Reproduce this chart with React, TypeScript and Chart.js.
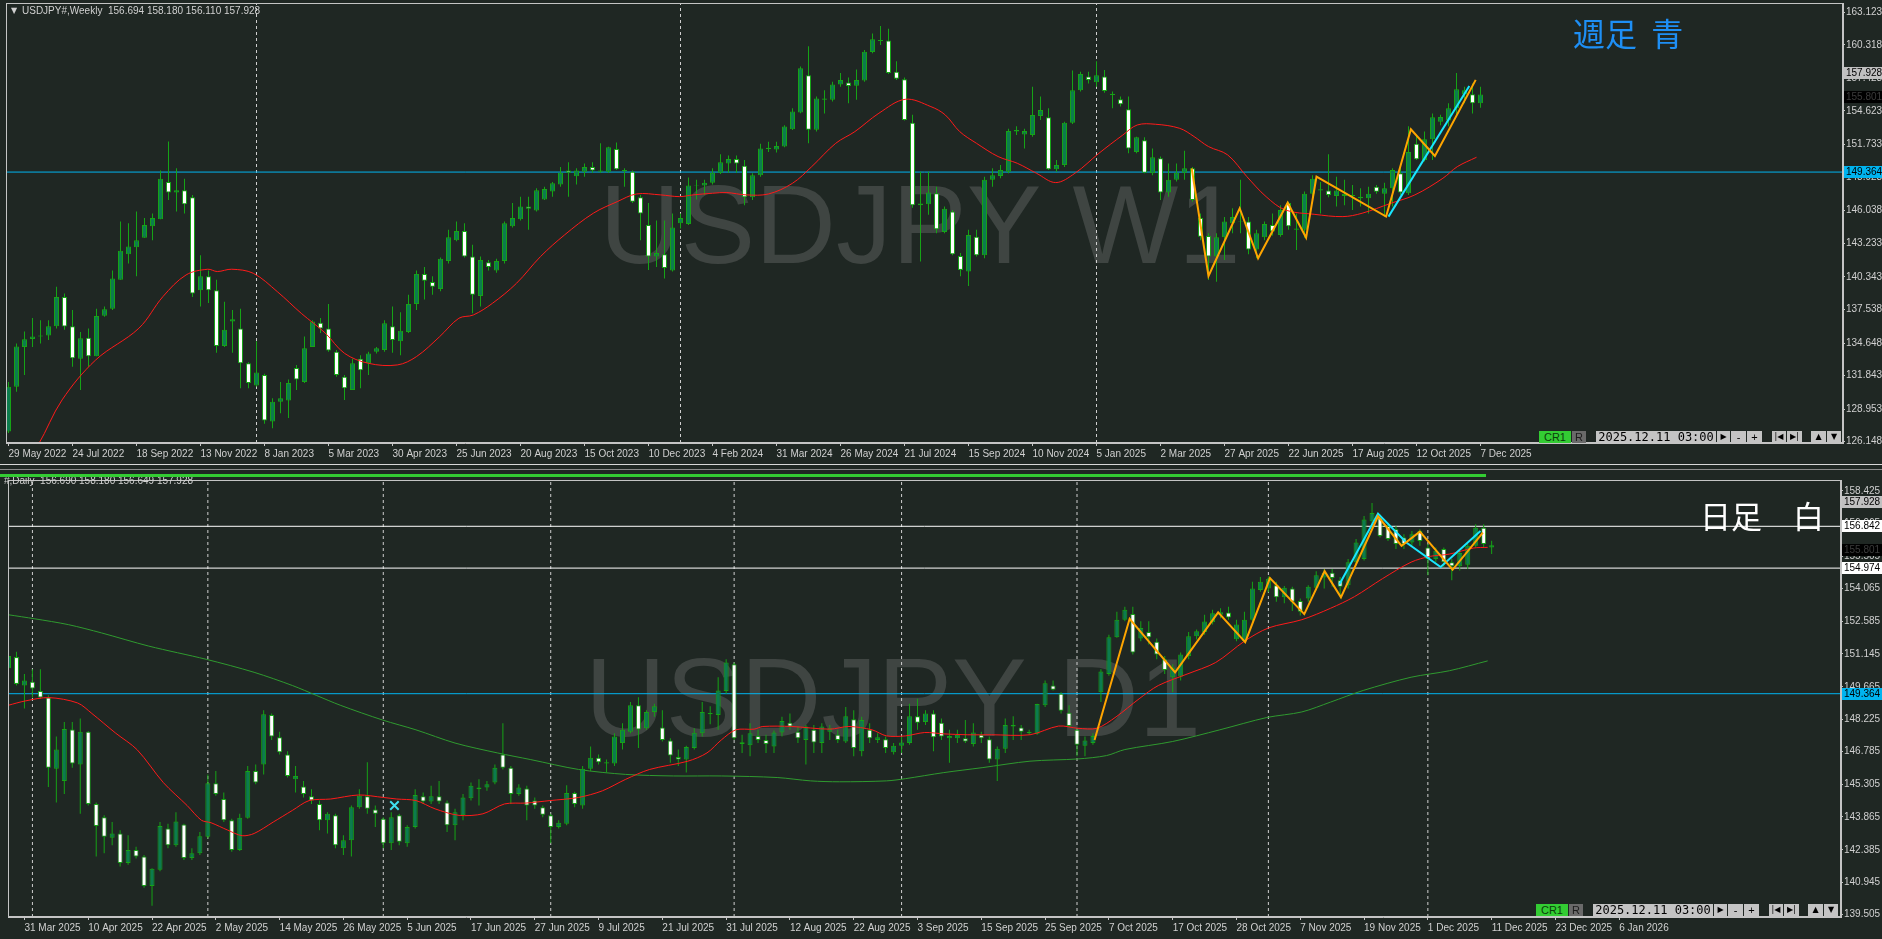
import React, { useEffect, useRef } from "react";
import { Chart, registerables } from "chart.js";

Chart.register(...registerables);

// ---------------- colours / fonts ----------------
const BG = "#1f2723";
const FG = "#d0d0d0";
const FRAME = "#c4c4c4";
const WICK = "#16a316";
const BULL_FILL = "#0c7c4e";
const BEAR_FILL = "#ffffff";
const AXIS_FAMILY = "'Liberation Sans', Arial, sans-serif";
const AXIS_SIZE = 10;

// ---------------- weekly data (index 0 = week of 29 May 2022) ----------------
const W_OPEN = [
  127.02, 130.89, 134.3, 135.0, 135.2, 135.3, 136.1, 138.6, 136.1, 133.3,
  135.1, 133.5, 137.0, 137.6, 140.1, 142.3, 142.9, 143.7, 144.7, 145.3,
  148.5, 147.6, 147.8, 147.2, 139.2, 140.4, 139.2, 134.4, 136.5, 135.9,
  132.9, 131.0, 131.9, 127.9, 129.6, 129.7, 132.5, 131.3, 134.3, 136.4,
  135.9, 133.9, 131.75, 130.6, 133.3, 132.9, 133.9, 134.05, 136.1, 134.8,
  135.6, 138.01, 140.6, 139.9, 139.3, 141.7, 143.5, 144.3, 142.1, 138.7,
  141.6, 140.9, 141.7, 144.7, 145.3, 146.4, 146.05, 147.0, 147.7, 148.3,
  149.5, 149.0, 149.4, 149.8, 149.5, 149.4, 151.35, 149.55, 149.4, 147.2,
  144.8, 142.1, 142.3, 140.9, 144.95, 144.9, 148.2, 148.2, 148.45, 149.3,
  150.1, 150.5, 149.9, 147.2, 149.1, 151.35, 151.3, 151.56, 153.05, 154.5,
  157.7, 153.0, 155.6, 155.6, 156.9, 157.07, 156.8, 157.24, 159.7, 160.74,
  160.7, 158.0, 157.35, 153.6, 146.5, 146.6, 147.55, 144.2, 145.96, 142.14,
  140.8, 143.8, 142.2, 148.7, 149.03, 149.4, 152.85, 152.6, 152.56, 154.2,
  154.08, 149.6, 149.98, 153.6, 156.4, 157.6, 157.1, 157.6, 156.1, 155.63,
  154.77, 151.1, 152.1, 149.26, 150.55, 147.6, 148.7, 149.3, 149.7, 145.4,
  143.87, 142.1, 143.75, 144.96, 145.1, 145.1, 142.7, 143.75, 144.8, 143.95,
  146.7, 144.4, 144.4, 147.5, 147.88, 147.77, 147.3, 147.3, 147.3, 147.1,
  147.1, 148.1, 147.5, 147.97, 149.26, 147.55, 151.8, 150.4, 152.2, 153.7,
  153.8, 154.86, 156.05, 156.06, 155.3,
];
const W_HIGH = [
  131.3, 134.6, 135.63, 136.8, 136.6, 136.6, 139.5, 138.9, 137.5, 135.6,
  135.9, 137.6, 137.8, 140.9, 145.1, 144.95, 145.96, 145.4, 145.8, 149.5,
  151.99, 149.7, 148.8, 147.4, 142.2, 140.9, 140.1, 138.2, 137.5, 137.6,
  133.0, 134.8, 132.0, 129.9, 131.3, 131.5, 132.75, 135.2, 136.6, 136.8,
  138.0, 134.05, 131.9, 133.3, 133.6, 133.9, 134.3, 136.6, 137.8, 137.3,
  138.8, 140.9, 141.2, 140.4, 142.0, 144.4, 145.1, 144.95, 143.1, 142.1,
  141.8, 141.9, 145.1, 146.7, 147.25, 147.25, 147.97, 148.1, 148.5, 149.8,
  150.2, 149.7, 150.1, 150.2, 151.85, 151.55, 151.9, 149.7, 149.5, 147.4,
  146.7, 145.2, 145.2, 145.8, 145.8, 148.9, 148.7, 148.7, 149.7, 150.9,
  150.8, 150.8, 150.4, 149.26, 151.8, 151.98, 151.98, 153.4, 154.86, 158.45,
  160.2, 155.86, 156.4, 157.15, 157.9, 157.5, 158.2, 159.88, 161.3, 161.95,
  161.7, 158.9, 157.5, 154.3, 149.4, 149.4, 148.1, 146.4, 146.1, 142.4,
  144.4, 144.4, 148.97, 149.7, 149.98, 153.1, 153.3, 153.1, 156.7, 155.86,
  154.86, 150.4, 153.7, 158.1, 158.0, 158.0, 158.9, 158.16, 156.3, 155.86,
  155.86, 152.4, 152.36, 151.4, 150.7, 150.1, 150.1, 151.2, 149.8, 145.8,
  144.1, 144.1, 145.5, 146.25, 148.7, 145.5, 144.4, 145.1, 145.8, 146.5,
  146.8, 145.8, 147.7, 149.1, 148.5, 150.9, 148.97, 148.7, 148.25, 147.97,
  148.1, 148.26, 148.45, 149.7, 149.98, 153.3, 152.5, 152.85, 154.4, 154.3,
  155.3, 157.9, 156.7, 157.0, 156.7,
];
const W_LOW = [
  126.9, 130.46, 131.9, 134.3, 134.6, 134.9, 135.9, 135.8, 132.6, 130.6,
  132.6, 133.5, 136.9, 137.5, 140.1, 141.5, 140.4, 143.7, 143.5, 145.3,
  146.96, 145.96, 145.8, 138.6, 137.8, 138.1, 133.8, 134.3, 133.8, 130.75,
  130.75, 130.9, 127.7, 127.3, 128.6, 128.2, 130.6, 131.2, 134.3, 135.5,
  133.9, 131.75, 129.75, 130.6, 130.75, 131.9, 133.75, 133.9, 133.8, 133.6,
  135.5, 137.5, 138.4, 138.8, 139.1, 141.5, 143.4, 142.0, 137.2, 137.8,
  140.9, 140.7, 141.5, 144.6, 145.2, 144.4, 145.96, 146.96, 147.25, 148.1,
  147.25, 148.3, 148.97, 149.3, 149.3, 149.3, 149.55, 148.1, 146.7, 143.5,
  140.94, 141.2, 140.2, 140.8, 144.5, 144.8, 147.0, 147.4, 148.3, 149.2,
  149.3, 149.3, 146.5, 146.96, 148.97, 151.1, 151.04, 151.5, 152.99, 154.43,
  151.85, 152.85, 154.4, 155.43, 156.7, 155.3, 155.6, 157.15, 159.6, 160.3,
  157.8, 157.3, 153.8, 146.3, 141.66, 145.7, 144.1, 144.1, 142.2, 140.4,
  139.56, 142.1, 141.94, 148.1, 148.83, 149.26, 152.56, 151.4, 152.4, 153.85,
  149.55, 149.4, 149.8, 153.5, 156.3, 157.0, 156.7, 156.2, 154.86, 155.0,
  150.98, 150.98, 149.26, 149.1, 146.96, 147.25, 148.55, 148.7, 146.8, 143.5,
  140.08, 139.93, 141.8, 144.1, 144.1, 142.3, 141.94, 143.5, 143.9, 143.8,
  144.4, 142.66, 143.7, 146.68, 145.8, 147.2, 146.4, 146.5, 146.1, 146.4,
  145.8, 147.5, 145.5, 146.4, 147.4, 147.4, 150.4, 150.27, 150.4, 153.4,
  153.3, 154.28, 155.3, 154.4, 154.9,
];
const W_CLOSE = [
  130.89, 134.34, 134.97, 135.2, 135.3, 136.1, 138.6, 136.06, 133.33, 135.05,
  133.5, 136.98, 137.55, 140.2, 142.6, 142.95, 143.5, 144.8, 145.4, 148.8,
  147.6, 147.8, 146.6, 138.9, 140.4, 139.2, 134.4, 135.8, 136.7, 132.9,
  131.2, 132.1, 127.97, 129.6, 129.9, 131.2, 131.5, 134.2, 136.5, 135.9,
  134.0, 131.9, 130.75, 132.9, 132.3, 133.75, 134.2, 136.35, 134.9, 135.7,
  138.01, 140.6, 140.0, 139.5, 141.9, 143.75, 144.3, 142.1, 138.8, 141.8,
  141.2, 141.7, 144.95, 145.4, 146.4, 146.2, 147.8, 147.9, 148.4, 149.3,
  149.3, 149.5, 149.8, 149.5, 149.4, 151.5, 149.6, 149.44, 146.8, 145.8,
  142.1, 142.4, 141.1, 144.6, 145.4, 148.2, 148.25, 148.45, 149.3, 150.2,
  150.5, 150.1, 147.2, 149.1, 151.4, 151.45, 151.6, 153.28, 154.57, 158.3,
  153.0, 155.7, 155.7, 156.9, 157.3, 156.78, 157.3, 159.73, 160.8, 160.65,
  157.9, 157.4, 153.85, 146.5, 146.66, 147.6, 144.44, 146.2, 142.3, 140.94,
  143.95, 142.2, 148.7, 149.1, 149.55, 152.9, 152.99, 152.9, 154.28, 154.7,
  149.6, 149.98, 153.6, 156.4, 157.8, 157.3, 157.7, 156.35, 156.0, 155.2,
  151.4, 152.36, 149.3, 150.64, 147.6, 148.7, 149.3, 149.7, 146.96, 143.8,
  142.1, 143.75, 145.1, 145.5, 145.15, 142.7, 144.1, 144.9, 144.24, 146.1,
  144.7, 144.5, 147.5, 148.8, 147.77, 147.4, 147.77, 147.5, 147.4, 147.25,
  147.5, 147.68, 147.97, 149.55, 147.6, 151.1, 150.46, 152.2, 154.08, 154.1,
  154.86, 156.5, 156.4, 155.3, 156.05,
];
const W_X_LABELS = [
  "29 May 2022", "24 Jul 2022", "18 Sep 2022", "13 Nov 2022", "8 Jan 2023", "5 Mar 2023",
  "30 Apr 2023", "25 Jun 2023", "20 Aug 2023", "15 Oct 2023", "10 Dec 2023", "4 Feb 2024",
  "31 Mar 2024", "26 May 2024", "21 Jul 2024", "15 Sep 2024", "10 Nov 2024", "5 Jan 2025",
  "2 Mar 2025", "27 Apr 2025", "22 Jun 2025", "17 Aug 2025", "12 Oct 2025", "7 Dec 2025",
];
const W_Y_TICKS = [163.123, 160.318, 157.428, 154.623, 151.733, 148.928, 146.038, 143.233, 140.343, 137.538, 134.648, 131.843, 128.953, 126.148];
const W_YEAR_LINES = [31, 84, 136];
const W_MA_X = [3.0, 3.7, 6.7, 10.9, 16.3, 19.3, 22.2, 24.9, 26.1, 27.9, 30.6, 33.6, 36.6, 39.6, 42.0, 45.0, 48.6, 51.0, 53.9, 56.3, 58.1, 60.5, 63.5, 66.5, 69.5, 73.1, 76.1, 78.5, 81.5, 83.9, 85.6, 88.0, 89.8, 92.2, 95.0, 98.0, 100.4, 103.4, 105.8, 108.8, 112.1, 115.3, 117.1, 118.9, 121.0, 123.7, 126.1, 128.5, 130.9, 133.3, 136.3, 139.3, 141.1, 143.4, 146.4, 148.2, 150.0, 152.4, 154.8, 157.2, 159.6, 163.2, 166.8, 169.2, 172.8, 175.8, 179.3, 181.1, 183.5];
const W_MA_Y = [125.5, 125.87, 129.75, 133.19, 135.92, 138.64, 140.51, 141.0, 140.8, 141.0, 140.65, 139.07, 137.2, 135.5, 133.76, 132.9, 132.76, 133.48, 135.2, 136.78, 137.06, 138.07, 139.79, 142.09, 143.95, 145.82, 146.82, 147.48, 147.4, 147.25, 147.4, 147.54, 147.6, 147.4, 147.48, 148.4, 149.83, 151.84, 152.85, 154.43, 155.63, 155.0, 154.28, 152.85, 151.84, 150.7, 150.12, 149.26, 148.46, 149.26, 150.98, 152.56, 153.42, 153.48, 153.13, 152.42, 151.56, 150.84, 148.97, 147.25, 146.1, 145.73, 145.53, 145.82, 146.68, 147.4, 148.83, 149.83, 150.64];
const W_ZZ_ORANGE_X = [147.9, 150.0, 153.9, 156.2, 159.9, 162.2, 163.5, 172.2, 175.3, 178.3, 183.4];
const W_ZZ_ORANGE_Y = [149.69, 140.42, 146.25, 141.94, 146.73, 143.72, 148.97, 145.53, 153.05, 150.75, 157.3];
const W_ZZ_CYAN_X = [172.5, 182.6];
const W_ZZ_CYAN_Y = [145.53, 156.78];
const W_HLINES = [149.364];

// ---------------- daily data (index 0 = 31 Mar 2025, first bar = -2) ----------------
const D_START = -2;
const D_OPEN = [
  150.5, 151.0, 149.73, 149.9, 149.48, 149.19, 146.01, 145.47, 147.77, 146.2,
  147.67, 144.44, 143.85, 142.93, 143.12, 141.8, 142.38, 142.09, 140.77, 141.5,
  143.34, 142.6, 143.52, 142.02, 142.24, 142.97, 145.36, 144.66, 143.71, 142.38,
  143.82, 145.91, 146.2, 148.41, 147.42, 146.65, 145.54, 145.22, 144.78, 144.44,
  143.71, 143.93, 142.46, 142.82, 144.29, 144.78, 144.19, 143.78, 142.68, 143.93,
  142.68, 143.41, 144.78, 144.55, 144.78, 144.51, 143.49, 143.93, 144.69, 145.18,
  145.18, 145.4, 146.65, 146.06, 144.88, 145.13, 144.59, 144.29, 143.93, 143.41,
  143.56, 144.93, 144.37, 146.01, 146.5, 146.3, 146.25, 147.16, 147.67, 148.85,
  147.82, 148.55, 147.86, 147.27, 146.54, 146.42, 146.94, 147.6, 148.5, 148.41,
  149.48, 150.68, 147.2, 147.06, 147.48, 147.3, 147.01, 147.63, 148.07, 147.67,
  147.3, 147.75, 147.16, 147.67, 147.53, 147.23, 148.22, 146.79, 147.75, 147.3,
  147.33, 146.75, 147.04, 147.16, 148.36, 148.1, 148.48, 148.07, 147.38, 147.38,
  147.38, 147.12, 147.53, 147.33, 146.42, 146.9, 147.9, 147.86, 147.67, 147.57,
  148.85, 149.73, 149.36, 148.51, 147.75, 147.04, 147.16, 149.43, 150.24, 151.89,
  152.67, 152.92, 151.83, 152.12, 151.68, 150.9, 150.1, 150.13, 151.05, 151.93,
  152.12, 152.56, 152.89, 152.99, 151.8, 151.71, 152.67, 154.0, 154.06, 154.21,
  153.67, 154.06, 153.5, 153.62, 154.1, 154.55, 154.77, 154.43, 154.21, 155.24,
  155.38, 157.07, 157.22, 156.85, 156.71, 156.34, 156.12, 156.63, 155.9, 155.38,
  155.83, 155.24, 155.06, 155.12, 155.97, 156.78, 155.9,
];
const D_HIGH = [
  151.2, 151.24, 150.24, 150.46, 150.46, 149.3, 147.45, 148.1, 148.1, 148.26,
  147.7, 144.51, 143.93, 143.63, 143.27, 143.04, 142.53, 142.16, 141.57, 143.63,
  143.56, 144.07, 143.56, 142.46, 143.19, 145.76, 145.91, 144.95, 143.78, 144.0,
  146.13, 146.2, 148.63, 148.48, 147.67, 146.79, 146.13, 145.47, 145.1, 144.59,
  144.07, 144.0, 143.04, 144.37, 145.1, 146.3, 144.37, 143.85, 144.07, 144.0,
  143.49, 145.1, 144.95, 145.25, 145.47, 144.59, 144.22, 144.88, 145.4, 145.54,
  145.47, 146.2, 148.04, 146.13, 145.32, 145.25, 144.73, 144.37, 144.0, 143.71,
  145.28, 144.99, 146.13, 147.01, 146.65, 146.42, 147.6, 148.04, 148.99, 149.21,
  148.63, 148.92, 148.63, 147.38, 146.87, 147.04, 147.82, 148.99, 148.8, 150.1,
  150.9, 150.76, 147.53, 148.04, 147.75, 147.53, 147.72, 148.33, 148.48, 147.9,
  147.97, 147.97, 148.04, 147.97, 147.75, 148.77, 148.63, 148.33, 148.04, 147.6,
  147.45, 147.16, 147.45, 148.92, 149.14, 148.63, 148.63, 148.26, 147.75, 147.75,
  148.19, 148.04, 147.67, 147.45, 147.01, 148.26, 148.36, 147.97, 147.75, 148.92,
  149.95, 149.95, 149.43, 148.85, 147.82, 147.45, 147.6, 150.46, 152.0, 153.03,
  153.25, 153.25, 152.6, 152.6, 151.83, 151.05, 150.68, 151.2, 152.12, 152.23,
  152.89, 153.11, 153.18, 153.25, 152.67, 153.03, 154.36, 154.58, 154.6, 154.36,
  154.18, 154.14, 153.62, 154.21, 154.83, 154.94, 154.94, 154.58, 155.38, 156.27,
  157.3, 157.88, 157.37, 157.0, 156.85, 156.49, 156.63, 156.71, 156.05, 155.9,
  155.9, 155.38, 155.75, 156.05, 156.93, 156.93, 156.2,
];
const D_LOW = [
  150.3, 149.73, 148.7, 149.2, 149.14, 145.2, 144.51, 144.88, 146.06, 144.0,
  144.37, 142.09, 142.24, 142.6, 141.65, 141.72, 142.0, 140.7, 139.89, 141.43,
  142.46, 142.53, 141.94, 141.94, 142.16, 142.9, 144.81, 143.63, 142.31, 142.34,
  143.78, 145.32, 145.76, 147.3, 146.65, 145.62, 144.95, 144.73, 144.44, 143.27,
  143.12, 142.46, 142.16, 142.09, 144.22, 144.0, 143.41, 142.46, 142.38, 142.6,
  142.53, 143.34, 144.44, 144.44, 144.44, 143.19, 142.82, 143.71, 144.59, 144.37,
  145.03, 145.32, 145.98, 144.44, 144.81, 143.71, 144.22, 143.85, 142.68, 143.34,
  143.49, 144.29, 144.22, 145.91, 146.2, 145.84, 146.13, 146.87, 147.6, 146.94,
  147.75, 148.33, 147.23, 146.28, 146.13, 145.84, 146.87, 147.45, 148.0, 147.75,
  149.36, 147.3, 146.72, 146.57, 147.16, 146.72, 146.72, 147.45, 147.75, 147.16,
  146.2, 146.72, 146.72, 147.3, 147.16, 147.16, 146.57, 146.57, 147.16, 147.16,
  146.72, 146.65, 146.72, 147.08, 147.75, 147.97, 146.79, 147.3, 146.28, 147.16,
  147.16, 147.01, 147.16, 146.28, 145.47, 146.72, 147.3, 147.3, 147.53, 147.53,
  148.77, 149.51, 148.48, 147.86, 146.57, 146.57, 147.08, 148.99, 150.17, 151.86,
  152.6, 151.12, 151.71, 151.56, 150.9, 150.24, 149.43, 149.95, 150.9, 151.79,
  152.0, 152.45, 152.74, 152.67, 151.71, 151.64, 152.6, 153.92, 153.9, 153.47,
  153.4, 153.06, 152.86, 153.47, 153.99, 154.06, 154.14, 153.7, 154.06, 155.09,
  155.31, 156.71, 156.34, 156.19, 155.83, 155.83, 155.97, 155.97, 154.65, 155.24,
  155.02, 154.43, 154.87, 154.94, 155.9, 155.9, 155.6,
];
const D_CLOSE = [
  151.05, 149.8, 149.95, 149.6, 149.2, 146.06, 146.87, 147.79, 146.25, 147.67,
  144.44, 143.46, 142.97, 143.12, 141.8, 142.38, 142.09, 140.77, 141.55, 143.46,
  142.6, 143.66, 142.02, 142.24, 143.0, 145.36, 144.88, 143.71, 142.38, 143.82,
  145.91, 145.4, 148.45, 147.45, 146.75, 145.69, 145.69, 144.88, 144.59, 143.71,
  144.0, 142.6, 142.82, 144.29, 144.81, 144.22, 144.0, 142.68, 143.85, 142.75,
  143.41, 144.84, 144.55, 144.78, 144.55, 143.49, 144.07, 144.73, 145.25, 145.1,
  145.32, 146.06, 146.06, 144.88, 145.18, 144.37, 144.37, 143.96, 143.41, 143.6,
  144.93, 144.44, 146.01, 146.5, 146.3, 146.25, 147.45, 147.75, 148.85, 147.77,
  148.55, 148.8, 147.3, 146.6, 146.42, 146.98, 147.62, 148.55, 148.45, 149.51,
  150.76, 147.38, 147.12, 147.6, 147.3, 147.12, 147.63, 148.14, 147.9, 147.38,
  147.9, 147.19, 147.9, 147.82, 147.3, 148.36, 146.94, 148.19, 147.38, 147.42,
  146.94, 147.04, 147.19, 148.36, 148.07, 148.48, 147.42, 147.45, 147.48, 147.53,
  147.23, 147.63, 147.38, 146.42, 146.9, 147.97, 147.97, 147.67, 147.6, 148.9,
  149.83, 149.54, 148.6, 147.92, 147.08, 147.27, 147.48, 150.36, 151.89, 152.67,
  153.11, 151.2, 152.3, 151.89, 151.12, 150.42, 150.54, 151.12, 151.93, 152.15,
  152.59, 152.96, 153.0, 152.77, 152.45, 152.67, 154.06, 154.36, 154.5, 153.67,
  154.1, 153.47, 153.03, 154.14, 154.65, 154.77, 154.53, 154.14, 155.24, 156.12,
  157.15, 157.44, 156.41, 156.27, 156.05, 156.05, 156.49, 156.19, 155.38, 155.75,
  155.24, 155.06, 155.65, 155.97, 156.78, 156.05, 156.0,
];
const D_X_LABELS = [
  "31 Mar 2025", "10 Apr 2025", "22 Apr 2025", "2 May 2025", "14 May 2025", "26 May 2025",
  "5 Jun 2025", "17 Jun 2025", "27 Jun 2025", "9 Jul 2025", "21 Jul 2025", "31 Jul 2025",
  "12 Aug 2025", "22 Aug 2025", "3 Sep 2025", "15 Sep 2025", "25 Sep 2025", "7 Oct 2025",
  "17 Oct 2025", "28 Oct 2025", "7 Nov 2025", "19 Nov 2025", "1 Dec 2025", "11 Dec 2025",
  "23 Dec 2025", "6 Jan 2026",
];
const D_Y_TICKS = [158.425, 156.965, 155.505, 154.065, 152.585, 151.145, 149.665, 148.225, 146.785, 145.305, 143.865, 142.385, 140.945, 139.505];
const D_MONTH_LINES = [1, 23, 45, 66, 89, 110, 132, 156, 176];
const D_MA_RED_X = [-2.0, 0.09, 3.08, 6.67, 8.46, 11.45, 14.14, 17.43, 20.4, 22.2, 23.4, 25.5, 27.3, 28.8, 31.2, 33.6, 35.7, 38.4, 41.9, 45.0, 46.7, 49.1, 51.5, 54.5, 57.5, 60.2, 62.9, 65.9, 69.5, 72.5, 75.4, 78.4, 83.2, 85.6, 87.4, 89.2, 91.5, 92.6, 96.2, 101.0, 103.4, 106.3, 108.1, 110.5, 112.9, 115.3, 118.3, 121.3, 126.1, 129.7, 132.1, 134.5, 136.9, 139.8, 142.2, 145.8, 149.4, 153.0, 156.0, 160.2, 163.8, 166.8, 170.3, 173.9, 176.3, 178.7, 181.7, 183.5];
const D_MA_RED_Y = [148.85, 149.04, 149.19, 148.95, 148.48, 147.6, 146.86, 145.39, 144.37, 143.71, 143.6, 143.27, 143.02, 143.12, 143.63, 144.15, 144.59, 144.66, 144.84, 144.73, 144.66, 144.59, 144.22, 143.93, 144.0, 144.44, 144.48, 144.59, 144.73, 145.03, 145.54, 145.98, 146.35, 146.72, 147.3, 147.75, 147.78, 147.9, 147.9, 147.78, 147.9, 147.75, 147.48, 147.48, 147.63, 147.57, 147.53, 147.53, 147.53, 147.92, 147.82, 147.82, 148.33, 149.14, 149.73, 150.24, 150.76, 151.71, 152.3, 152.67, 153.18, 153.7, 154.5, 155.24, 155.5, 155.6, 155.87, 155.9];
const D_MA_GREEN_X = [-2.0, 1.29, 5.5, 9.66, 15.6, 22.8, 28.8, 33.6, 36.6, 39.6, 44.9, 49.1, 54.0, 59.3, 63.5, 69.5, 75.4, 81.4, 87.4, 94.4, 98.6, 102.2, 108.1, 110.5, 115.3, 120.1, 126.1, 132.1, 135.7, 138.0, 144.0, 149.9, 155.8, 160.2, 163.8, 167.9, 173.9, 178.7, 183.5];
const D_MA_GREEN_Y = [152.89, 152.71, 152.45, 152.08, 151.49, 150.9, 150.32, 149.73, 149.29, 148.85, 148.19, 147.75, 147.16, 146.72, 146.42, 145.98, 145.76, 145.69, 145.69, 145.62, 145.47, 145.43, 145.47, 145.57, 145.84, 146.06, 146.35, 146.45, 146.6, 146.87, 147.23, 147.75, 148.3, 148.55, 148.99, 149.51, 150.1, 150.39, 150.83];
const D_ZZ_ORANGE_X = [134.2, 138.6, 144.3, 149.7, 153.1, 156.2, 160.5, 163.05, 165.1, 169.75, 172.7, 175.0, 179.1, 182.9];
const D_ZZ_ORANGE_Y = [147.3, 152.71, 150.32, 153.0, 151.67, 154.53, 152.92, 154.84, 153.67, 157.29, 155.97, 156.6, 154.9, 156.56];
const D_ZZ_CYAN_X = [164.9, 169.75, 173.3, 177.6, 182.6];
const D_ZZ_CYAN_Y = [154.24, 157.41, 156.12, 155.02, 156.63];
const D_HLINES_WHITE = [156.842, 154.974];
const D_HLINES_CYAN = [149.364];
const D_MARK_X = [46.4];
const D_MARK_Y = [144.37];

// ---------------- helpers ----------------
const pts = (xs: number[], ys: number[]) => xs.map((x, i) => ({ x, y: ys[i] }));

function candleSets(start: number, o: number[], h: number[], l: number[], c: number[]) {
  const wicks = o.map((_, i) => ({ x: start + i, y: [l[i], h[i]] }));
  const bodies = o.map((_, i) => ({ x: start + i, y: [o[i], c[i]] }));
  const bull = o.map((_, i) => c[i] >= o[i]);
  return [
    {
      type: "bar", data: wicks, backgroundColor: WICK, borderWidth: 0, barThickness: 1,
      grouped: false, order: 20, inflateAmount: 0,
    },
    {
      type: "bar", data: bodies,
      backgroundColor: (ctx: any) => (bull[ctx.dataIndex] ? BULL_FILL : BEAR_FILL),
      borderColor: WICK, borderWidth: 1, borderSkipped: false, barThickness: 5,
      grouped: false, order: 19, inflateAmount: 0,
    },
  ];
}

const lineSet = (data: any[], color: string, width: number, order: number, extra: any = {}) => ({
  type: "line", data, borderColor: color, borderWidth: width, pointRadius: 0, fill: false,
  tension: 0, order, ...extra,
});

function priceTag(ctx: any, chart: any, price: number, bg: string, fg: string) {
  const y = Math.round(chart.scales.y.getPixelForValue(price));
  const x0 = chart.chartArea.right + 1;
  ctx.fillStyle = bg;
  ctx.fillRect(x0, y - 6, chart.width - x0, 12);
  ctx.fillStyle = fg;
  ctx.font = `${AXIS_SIZE}px ${AXIS_FAMILY}`;
  ctx.textAlign = "left";
  ctx.textBaseline = "middle";
  ctx.fillText(price.toFixed(3), x0 + 2, y + 0.5);
}

type Spec = {
  padLeft: number; padTop: number; yAxisWidth: number; xAxisHeight: number;
  xMin: number; xMax: number; yMin: number; yMax: number;
  xTicks: number[]; xLabels: string[]; yTicks: number[];
  datasets: any[];
  watermark: string; wmX: number; wmBaseline: number;
  draw: (ctx: any, chart: any) => void;
};

function buildConfig(s: Spec) {
  const plugin = {
    id: "paneDeco",
    beforeDraw(chart: any) {
      const ctx = chart.ctx;
      ctx.save();
      ctx.fillStyle = BG;
      ctx.fillRect(0, 0, chart.width, chart.height);
      ctx.restore();
    },
    beforeDatasetsDraw(chart: any) {
      const ctx = chart.ctx;
      ctx.save();
      ctx.font = "112px 'Liberation Sans', Arial, sans-serif";
      ctx.fillStyle = "#3f4542";
      ctx.textAlign = "center";
      ctx.textBaseline = "alphabetic";
      ctx.fillText(s.watermark, s.wmX, s.wmBaseline);
      ctx.restore();
    },
    afterDraw(chart: any) {
      const ctx = chart.ctx;
      const a = chart.chartArea;
      ctx.save();
      ctx.strokeStyle = FRAME;
      ctx.lineWidth = 1;
      ctx.strokeRect(a.left + 0.5, a.top + 0.5, a.right - a.left - 1, a.bottom - a.top - 1);
      s.draw(ctx, chart);
      ctx.restore();
    },
  };
  return {
    type: "bar",
    data: { datasets: s.datasets },
    options: {
      animation: false,
      responsive: false,
      devicePixelRatio: 1,
      events: [],
      layout: { padding: { left: s.padLeft, top: s.padTop, right: 0, bottom: 0 } },
      plugins: { legend: { display: false }, tooltip: { enabled: false }, title: { display: false } },
      scales: {
        x: {
          type: "linear", min: s.xMin, max: s.xMax, offset: false,
          afterBuildTicks: (sc: any) => { sc.ticks = s.xTicks.map((v) => ({ value: v })); },
          afterFit: (sc: any) => { sc.height = s.xAxisHeight; sc.paddingLeft = 0; sc.paddingRight = 0; },
          ticks: {
            autoSkip: false, maxRotation: 0, minRotation: 0, align: "start", color: FG, padding: 2,
            font: { family: AXIS_FAMILY, size: AXIS_SIZE },
            callback: (_v: any, i: number) => s.xLabels[i] ?? "",
          },
          grid: { display: true, drawOnChartArea: false, drawTicks: true, tickLength: 3, color: FRAME, offset: false },
          border: { display: true, color: FRAME },
        },
        y: {
          type: "linear", position: "right", min: s.yMin, max: s.yMax,
          afterBuildTicks: (sc: any) => { sc.ticks = s.yTicks.map((v) => ({ value: v })); },
          afterFit: (sc: any) => { sc.width = s.yAxisWidth; sc.paddingTop = 0; sc.paddingBottom = 0; },
          ticks: {
            autoSkip: false, color: FG, padding: 1,
            font: { family: AXIS_FAMILY, size: AXIS_SIZE },
            callback: (v: any) => Number(v).toFixed(3),
          },
          grid: { display: true, drawOnChartArea: false, drawTicks: true, tickLength: 2, color: FRAME },
          border: { display: true, color: FRAME },
        },
      },
    },
    plugins: [plugin],
  };
}

// ---------------- weekly pane ----------------
function buildWeekly() {
  const xMin = -0.3125, xMax = 229.3125, yMin = 126.04, yMax = 163.92;
  const datasets: any[] = [
    ...W_YEAR_LINES.map((k) =>
      lineSet([{ x: k, y: yMin }, { x: k, y: yMax }], "#cfcfcf", 1, 30, { borderDash: [3, 3] })),
    ...W_HLINES.map((p) => lineSet([{ x: xMin, y: p }, { x: xMax, y: p }], "#00b4f0", 1, 25)),
    ...candleSets(0, W_OPEN, W_HIGH, W_LOW, W_CLOSE),
    lineSet(pts(W_MA_X, W_MA_Y), "#ff1a1a", 1, 10, { tension: 0.35 }),
    lineSet(pts(W_ZZ_CYAN_X, W_ZZ_CYAN_Y), "#19e6ff", 2, 6),
    lineSet(pts(W_ZZ_ORANGE_X, W_ZZ_ORANGE_Y), "#ffa500", 2, 5),
  ];
  return buildConfig({
    padLeft: 6, padTop: 3, yAxisWidth: 39, xAxisHeight: 23,
    xMin, xMax, yMin, yMax,
    xTicks: W_X_LABELS.map((_, i) => i * 8), xLabels: W_X_LABELS, yTicks: W_Y_TICKS,
    datasets,
    watermark: "USDJPY W1", wmX: 920, wmBaseline: 263,
    draw: (ctx, chart) => {
      ctx.fillStyle = FG;
      ctx.textAlign = "left";
      ctx.textBaseline = "middle";
      ctx.font = "8px 'DejaVu Sans', sans-serif";
      ctx.fillText("▼", 11, 11);
      ctx.font = `${AXIS_SIZE}px ${AXIS_FAMILY}`;
      ctx.fillText("USDJPY#,Weekly  156.694 158.180 156.110 157.928", 22, 11);
      priceTag(ctx, chart, 157.928, "#c0c0c0", "#000000");
      priceTag(ctx, chart, 155.801, "#000000", "#3c3c3c");
      priceTag(ctx, chart, 149.364, "#00b4f0", "#000000");
      ctx.font = "32px 'Noto Sans CJK JP', 'Noto Sans CJK SC', sans-serif";
      ctx.fillStyle = "#1e8ff5";
      ctx.textBaseline = "middle";
      ctx.fillText("週足  青", 1573, 34);
    },
  });
}

// ---------------- daily pane ----------------
function buildDaily() {
  const xMin = -2.0625, xMax = 227.8125, yMin = 139.39, yMax = 158.91;
  const datasets: any[] = [
    ...D_MONTH_LINES.map((d) =>
      lineSet([{ x: d, y: yMin }, { x: d, y: yMax }], "#cfcfcf", 1, 30, { borderDash: [3, 3] })),
    ...D_HLINES_WHITE.map((p) => lineSet([{ x: xMin, y: p }, { x: xMax, y: p }], "#ffffff", 1, 25)),
    ...D_HLINES_CYAN.map((p) => lineSet([{ x: xMin, y: p }, { x: xMax, y: p }], "#00b4f0", 1, 25)),
    lineSet(pts(D_MA_GREEN_X, D_MA_GREEN_Y), "#2f9a2f", 1, 22, { tension: 0.3 }),
    ...candleSets(D_START, D_OPEN, D_HIGH, D_LOW, D_CLOSE),
    lineSet(pts(D_MA_RED_X, D_MA_RED_Y), "#ff1a1a", 1, 10, { tension: 0.3 }),
    lineSet(pts(D_ZZ_CYAN_X, D_ZZ_CYAN_Y), "#19e6ff", 2, 6),
    lineSet(pts(D_ZZ_ORANGE_X, D_ZZ_ORANGE_Y), "#ffa500", 2, 5),
    {
      type: "line", data: pts(D_MARK_X, D_MARK_Y), showLine: false, pointStyle: "crossRot",
      pointRadius: 6, borderColor: "#3fe0f0", borderWidth: 2, order: 4,
    },
  ];
  return buildConfig({
    padLeft: 2, padTop: 2, yAxisWidth: 41, xAxisHeight: 22,
    xMin, xMax, yMin, yMax,
    xTicks: D_X_LABELS.map((_, i) => i * 8), xLabels: D_X_LABELS, yTicks: D_Y_TICKS,
    datasets,
    watermark: "USDJPY D1", wmX: 893, wmBaseline: 264,
    draw: (ctx, chart) => {
      ctx.font = `${AXIS_SIZE}px ${AXIS_FAMILY}`;
      ctx.fillStyle = FG;
      ctx.textAlign = "left";
      ctx.textBaseline = "middle";
      ctx.fillText("#,Daily  156.690 158.180 156.649 157.928", 4, 9);
      priceTag(ctx, chart, 157.928, "#c0c0c0", "#000000");
      priceTag(ctx, chart, 156.842, "#ffffff", "#000000");
      priceTag(ctx, chart, 155.801, "#000000", "#3c3c3c");
      priceTag(ctx, chart, 154.974, "#ffffff", "#000000");
      priceTag(ctx, chart, 149.364, "#00b4f0", "#000000");
      ctx.font = "31px 'Noto Sans CJK JP', 'Noto Sans CJK SC', sans-serif";
      ctx.fillStyle = "#ffffff";
      ctx.textBaseline = "middle";
      ctx.fillText("日足　白", 1700, 44);
    },
  });
}

// ---------------- components ----------------
function Pane({ build, top, height }: { build: () => any; top: number; height: number }) {
  const ref = useRef<HTMLCanvasElement | null>(null);
  useEffect(() => {
    const chart = new Chart(ref.current as HTMLCanvasElement, build() as any);
    return () => chart.destroy();
  }, []);
  return (
    <canvas
      ref={ref}
      width={1882}
      height={height}
      style={{ position: "absolute", left: 0, top, width: 1882, height, display: "block" }}
    />
  );
}

function Btn({ x, y, w, bg, color, text, font }: any) {
  return (
    <div
      style={{
        position: "absolute", left: x, top: y, width: w, height: 12, background: bg, color,
        font, lineHeight: "12px", textAlign: "center", overflow: "hidden", boxSizing: "border-box",
        whiteSpace: "nowrap",
      }}
    >
      {text}
    </div>
  );
}

function Controls({ y, dx }: { y: number; dx: number }) {
  const small = "8px 'DejaVu Sans', sans-serif";
  const gray = "#c4c4c4";
  return (
    <>
      <Btn x={1539 + dx} y={y} w={32} bg="#33cc33" color="#0b3d0b" text="CR1" font={`11px ${AXIS_FAMILY}`} />
      <Btn x={1572 + dx} y={y} w={14} bg="#6a6a6a" color="#1c1c1c" text="R" font={`11px ${AXIS_FAMILY}`} />
      <Btn x={1596 + dx} y={y} w={120} bg={gray} color="#000" text="2025.12.11 03:00" font="12px 'DejaVu Sans Mono', monospace" />
      <Btn x={1717 + dx} y={y} w={13} bg={gray} color="#000" text="▶" font={small} />
      <Btn x={1731 + dx} y={y} w={15} bg={gray} color="#000" text="-" font={`11px ${AXIS_FAMILY}`} />
      <Btn x={1747 + dx} y={y} w={15} bg={gray} color="#000" text="+" font={`11px ${AXIS_FAMILY}`} />
      <Btn x={1772 + dx} y={y} w={14} bg={gray} color="#000" text="|◀" font={small} />
      <Btn x={1787 + dx} y={y} w={15} bg={gray} color="#000" text="▶|" font={small} />
      <Btn x={1811 + dx} y={y} w={15} bg={gray} color="#000" text="▲" font={small} />
      <Btn x={1827 + dx} y={y} w={14} bg={gray} color="#000" text="▼" font={small} />
    </>
  );
}

export default function App() {
  return (
    <div
      style={{
        position: "fixed", left: 0, top: 0, width: 1882, height: 939, background: BG,
        overflow: "hidden",
      }}
    >
      <Pane build={buildWeekly} top={0} height={466} />
      <Pane build={buildDaily} top={472} height={467} />
      <div style={{ position: "absolute", left: 0, top: 464, width: 1882, height: 1, background: "#d8d8d8" }} />
      <div style={{ position: "absolute", left: 0, top: 469, width: 1882, height: 1, background: "#8c8c8c" }} />
      <div style={{ position: "absolute", left: 0, top: 474, width: 1486, height: 3, background: "#33cc33" }} />
      <Controls y={431} dx={0} />
      <Controls y={904} dx={-3} />
    </div>
  );
}
